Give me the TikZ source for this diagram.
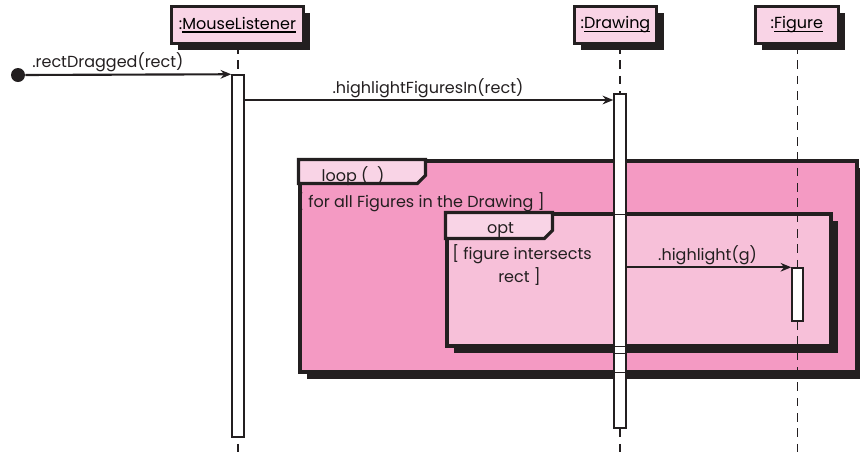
\documentclass[tikz,border=0pt]{standalone}
\usepackage{fontspec}
\setmainfont{Poppins}
\usetikzlibrary{arrows.meta,shadows,calc}
\definecolor{ink}{HTML}{231F20}
\definecolor{loopc}{HTML}{F49AC3}
\definecolor{optc}{HTML}{F7C0D9}
\definecolor{headc}{HTML}{F9D4E6}
\newcommand\myul[1]{\setbox0\hbox{#1}\rlap{\rule[-2.2pt]{\wd0}{0.8pt}}\box0}
\tikzset{
  shad/.style={drop shadow={shadow xshift=5pt,shadow yshift=-5pt,fill=ink,opacity=1}},
  objbox/.style={draw=ink,line width=2.4pt,fill=headc,inner sep=0pt,minimum height=27.75pt,shad},
  frame/.style={draw=ink,line width=2.4pt,inner sep=0pt,shad},
  tab/.style={draw=ink,line width=2.4pt,fill=headc,line join=miter},
  lifeline/.style={draw=ink,line width=1.2pt,dash pattern=on 6.5pt off 5pt},
  actbar/.style={draw=ink,line width=1.1pt,fill=white,inner sep=0pt,minimum width=9pt},
  msg/.style={draw=ink,line width=1.6pt,-{Stealth[length=8pt,width=6.5pt]}},
  lbl/.style={inner sep=0pt,text=ink}
}
\begin{document}
\begin{tikzpicture}[x=0.75pt,y=-0.75pt,font=\fontsize{12}{14}\selectfont]
\useasboundingbox (0,0) rectangle (860,458);
% objects
\node[objbox,minimum width=99pt] (ml) at (237.5,25) {:\myul{MouseListener}};
\node[objbox,minimum width=62pt] (dr) at (615.5,25) {:\myul{Drawing}};
\node[objbox,minimum width=62pt] (fg) at (796.8,25) {:\myul{Figure}};
% frames
\node[frame,fill=loopc,minimum width=417.75pt,minimum height=158.25pt] (loop) at (578.5,266.5) {};
\draw[tab] (loop.north west) -- ++(127,0) -- ++(0,16) -- ++(-8,8) -- ($(loop.north west)+(0,24)$) -- cycle;
\node[frame,fill=optc,minimum width=288pt,minimum height=99pt] (opt) at (639,280) {};
\draw[tab] (opt.north west) -- ++(107,0) -- ++(0,18) -- ++(-8,8) -- ($(opt.north west)+(0,26)$) -- cycle;
% lifelines
\coordinate (mlend) at (237.7,458);
\coordinate (drend) at (620,458);
\coordinate (fgend) at (797.5,458);
\draw[lifeline] (ml.south -| mlend) -- (mlend);
\draw[lifeline] (dr.south -| drend) -- (drend);
\draw[lifeline] (fg.south -| fgend) -- (fgend);
% activation bars
\node[actbar,minimum height=271.5pt] (a1) at (238,256) {};
\node[actbar,minimum height=250.5pt] (a2) at (620,261) {};
\node[actbar,minimum width=8.25pt,minimum height=39.75pt] (a3) at (797.5,294.5) {};
% frame edges crossing the Drawing bar
\foreach \yy in {214,346,353,372}{
  \draw[ink,line width=0.7pt] (a2.west |- 0,\yy) -- (a2.east |- 0,\yy);
}
% messages
\node[circle,fill=ink,inner sep=0pt,minimum size=10.5pt] (start) at (18,75) {};
\draw[msg] (start) -- (a1.north west);
\coordinate (m2) at (0,100);
\draw[msg] (a1.east |- m2) -- (a2.west |- m2);
\draw[msg] (a2.east |- a3.north) -- (a3.north west);
% labels
\node[lbl,anchor=base west] (l1) at (32,67) {.rectDragged(rect)};
\node[lbl,anchor=base] (l2) at (428,93) {.highlightFiguresIn(rect)};
\node[lbl,anchor=base] (l3) at (707.5,260) {.highlight(g)};
\node[lbl,anchor=base] (lt) at (353,181) {loop (\ \ )};
\node[lbl,anchor=base west] (lg) at (297,207) {[ for all Figures in the Drawing ]};
\node[lbl,anchor=base] (ot) at (500.5,233) {opt};
\node[lbl,anchor=base west] (og1) at (452,259) {[ figure intersects};
\node[lbl,anchor=base west] (og2) at (498,282) {rect ]};
\end{tikzpicture}
\end{document}
